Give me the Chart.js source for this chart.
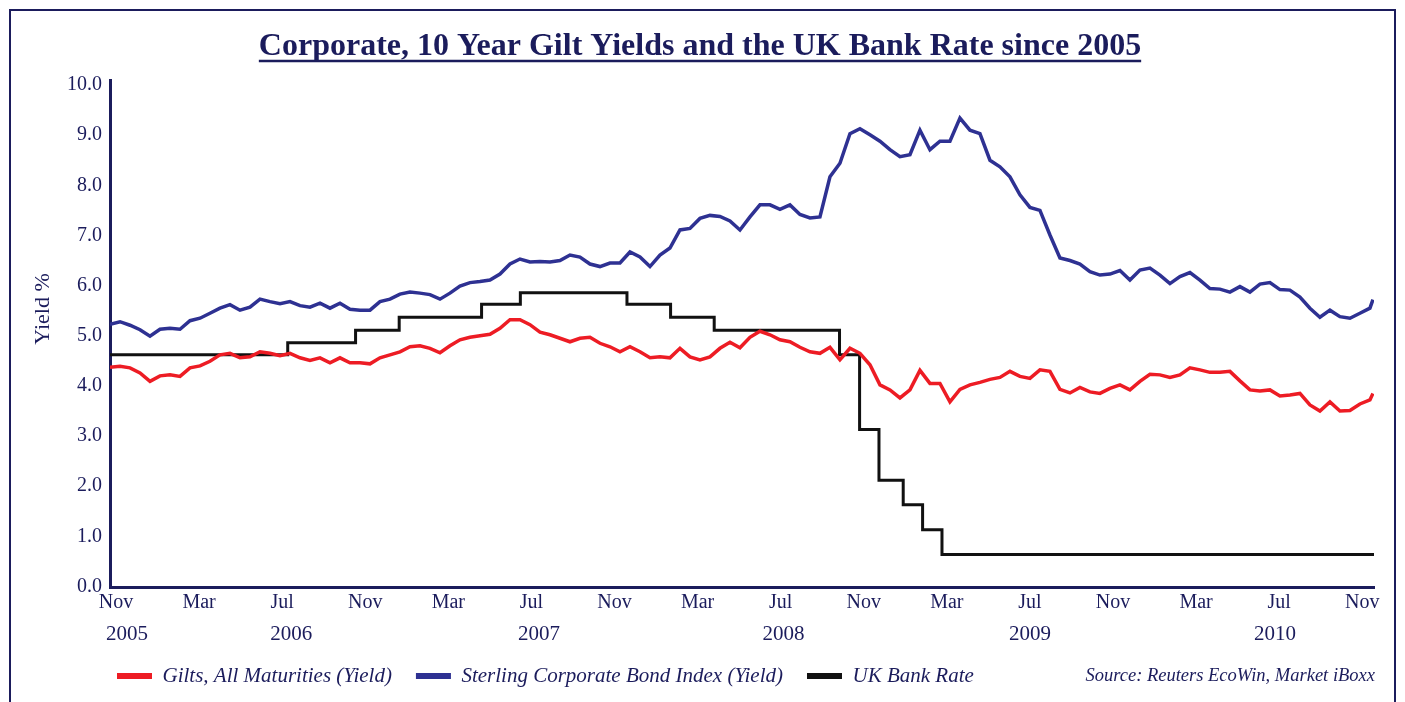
<!DOCTYPE html>
<html>
<head>
<meta charset="utf-8">
<script src="https://cdn.jsdelivr.net/npm/chart.js@4.4.1/dist/chart.umd.min.js"></script>
<style>
html,body{margin:0;padding:0;background:#fff;}
#wrap{position:relative;width:1405px;height:702px;overflow:hidden;background:#fff;}
#frame{position:absolute;left:9px;top:9px;width:1383px;height:720px;border:2px solid #1b1c5c;}
canvas{position:absolute;left:0;top:0;}
</style>
</head>
<body>
<div id="wrap"><div id="frame"></div><canvas id="c" width="1405" height="702"></canvas></div>
<script>
// x unit: days since 1 Nov 2005
const monthTickLabels = ['Nov','Mar','Jul','Nov','Mar','Jul','Nov','Mar','Jul','Nov','Mar','Jul','Nov','Mar','Jul','Nov'];
const monthTickDays = [27,147,267,387,507,627,747,867,987,1107,1227,1347,1467,1587,1707,1827];
const yearLabels = ['2005','2006','2007','2008','2009','2010'];
const yearTickDays = [43,280,638,991,1347,1701];
const yTickValues = [0,1,2,3,4,5,6,7,8,9,10];

// yield series (as read against the printed axis), sampled roughly every two weeks from 19 Nov 2005
const FIRST_DAY = 18.3, STEP_DAYS = 14.443, LAST_DAY = 1842.5;
const giltYield = [
  4.37,4.39,4.36,4.26,4.09,4.20,4.22,4.19,4.36,4.40,
  4.49,4.62,4.65,4.56,4.58,4.68,4.65,4.60,4.65,4.56,
  4.51,4.56,4.46,4.56,4.46,4.46,4.44,4.56,4.62,4.68,
  4.78,4.80,4.75,4.66,4.80,4.92,4.97,5.00,5.03,5.15,
  5.32,5.32,5.22,5.07,5.02,4.95,4.88,4.95,4.97,4.85,
  4.78,4.68,4.78,4.68,4.56,4.58,4.56,4.75,4.58,4.52,
  4.58,4.75,4.87,4.76,4.97,5.09,5.02,4.92,4.88,4.77,
  4.68,4.65,4.77,4.52,4.75,4.65,4.42,4.02,3.92,3.76,
  3.92,4.31,4.05,4.05,3.68,3.93,4.02,4.07,4.13,4.17,
  4.29,4.19,4.15,4.32,4.29,3.93,3.86,3.97,3.88,3.85,
  3.95,4.02,3.92,4.09,4.23,4.22,4.17,4.22,4.36,4.32,
  4.27,4.27,4.29,4.10,3.92,3.90,3.92,3.80,3.82,3.85,
  3.62,3.50,3.68,3.50,3.51,3.64,3.72,3.85
];
const corpYield = [
  5.23,5.28,5.21,5.12,4.99,5.13,5.15,5.13,5.30,5.35,
  5.45,5.55,5.62,5.51,5.57,5.73,5.68,5.64,5.68,5.60,
  5.57,5.65,5.55,5.65,5.53,5.51,5.51,5.68,5.73,5.83,
  5.87,5.85,5.82,5.73,5.85,5.99,6.06,6.08,6.11,6.23,
  6.43,6.53,6.47,6.48,6.47,6.50,6.61,6.57,6.43,6.38,
  6.45,6.45,6.67,6.57,6.38,6.61,6.75,7.11,7.14,7.34,
  7.40,7.38,7.29,7.11,7.37,7.61,7.61,7.52,7.61,7.42,
  7.35,7.37,8.17,8.44,9.03,9.13,9.01,8.88,8.71,8.57,
  8.61,9.10,8.71,8.88,8.88,9.34,9.10,9.03,8.50,8.37,
  8.17,7.81,7.56,7.50,7.01,6.55,6.50,6.43,6.28,6.21,
  6.23,6.30,6.11,6.31,6.35,6.21,6.04,6.18,6.26,6.11,
  5.94,5.93,5.87,5.98,5.87,6.03,6.06,5.92,5.91,5.77,
  5.55,5.37,5.51,5.38,5.35,5.45,5.55,5.72
];

const bankRateDates = ['2005-11-19','2006-08-03','2006-11-09','2007-01-11','2007-05-10','2007-07-05','2007-12-06','2008-02-07','2008-04-10','2008-10-08','2008-11-06','2008-12-04','2009-01-08','2009-02-05','2009-03-05','2010-11-19'];
const bankRate = [4.62,4.86,5.11,5.37,5.63,5.86,5.63,5.37,5.11,4.62,3.13,2.12,1.63,1.13,0.64,0.64];

const NAVY = '#1b1c5c';
const SERIF = '"Liberation Serif", "Times New Roman", serif';
const TITLE = 'Corporate, 10 Year Gilt Yields and the UK Bank Rate since 2005';
const Y_TITLE = 'Yield %';
const SOURCE = 'Source: Reuters EcoWin, Market iBoxx';

const ORIGIN = Date.UTC(2005, 10, 1);
const toDay = s => { const [y,m,d] = s.split('-').map(Number); return (Date.UTC(y, m-1, d) - ORIGIN) / 86400000; };
const sampleDays = giltYield.map((_, i) => i < giltYield.length - 1 ? FIRST_DAY + i * STEP_DAYS : LAST_DAY);
const giltPts = giltYield.map((v, i) => ({x: sampleDays[i], y: v}));
const corpPts = corpYield.map((v, i) => ({x: sampleDays[i], y: v}));
const bankPts = bankRate.map((v, i) => ({x: toDay(bankRateDates[i]), y: v}));

const X_MIN = 18.3, X_MAX = 1844;

const extras = {
  id: 'extras',
  afterLayout(chart) {
    const lg = chart.legend;
    if (lg) {
      const pad = lg.options.labels.padding;
      const dx = 117 - (lg.left + pad);
      const dy = 676 - (lg.top + pad + 10.5);
      lg.left += dx; lg.right += dx;
      lg.top += dy; lg.bottom += dy;
    }
  },
  afterDraw(chart) {
    const ctx = chart.ctx;
    ctx.save();
    const tb = chart.titleBlock;
    ctx.font = 'bold 32px ' + SERIF;
    const w = ctx.measureText(TITLE).width;
    const cx = (tb.left + tb.right) / 2;
    ctx.strokeStyle = NAVY;
    ctx.lineWidth = 2.5;
    ctx.beginPath();
    ctx.moveTo(cx - w / 2, 61);
    ctx.lineTo(cx + w / 2, 61);
    ctx.stroke();
    // source note
    ctx.font = 'italic 18.5px ' + SERIF;
    ctx.fillStyle = NAVY;
    ctx.textAlign = 'right';
    ctx.textBaseline = 'middle';
    ctx.fillText(SOURCE, 1375, 676);
    // y axis title
    ctx.translate(43, 309);
    ctx.rotate(-Math.PI / 2);
    ctx.textAlign = 'center';
    ctx.font = '22px ' + SERIF;
    ctx.fillText(Y_TITLE, 0, 0);
    ctx.restore();
  }
};

new Chart(document.getElementById('c'), {
  type: 'line',
  data: {
    datasets: [
      {label: 'Gilts, All Maturities (Yield)', data: giltPts, borderColor: '#ed1c24', backgroundColor: '#ed1c24', borderWidth: 3.5, pointRadius: 0, tension: 0},
      {label: 'Sterling Corporate Bond Index (Yield)', data: corpPts, borderColor: '#2e3192', backgroundColor: '#2e3192', borderWidth: 3.5, pointRadius: 0, tension: 0},
      {label: 'UK Bank Rate', data: bankPts, borderColor: '#111111', backgroundColor: '#111111', borderWidth: 3, pointRadius: 0, stepped: 'before'}
    ]
  },
  options: {
    responsive: false,
    animation: false,
    events: [],
    layout: {padding: {left: 26, right: 31, top: 0, bottom: 0.4}},
    scales: {
      x: {
        type: 'linear', position: 'bottom', weight: 0, min: X_MIN, max: X_MAX,
        grid: {display: false, drawTicks: false},
        border: {display: true, color: NAVY, width: 3},
        afterBuildTicks: s => { s.ticks = monthTickDays.map(v => ({value: v})); },
        ticks: {autoSkip: false, maxRotation: 0, minRotation: 0, padding: 4, color: NAVY,
                font: {family: SERIF, size: 20}, callback: (v, i) => monthTickLabels[i]},
        afterFit: s => { s.height = 28; }
      },
      x2: {
        type: 'linear', position: 'bottom', weight: 1, min: X_MIN, max: X_MAX,
        grid: {display: false, drawTicks: false},
        border: {display: false},
        afterBuildTicks: s => { s.ticks = yearTickDays.map(v => ({value: v})); },
        ticks: {autoSkip: false, maxRotation: 0, minRotation: 0, padding: 6.4, color: NAVY,
                font: {family: SERIF, size: 21}, callback: (v, i) => yearLabels[i]},
        afterFit: s => { s.height = 31.6; }
      },
      y: {
        type: 'linear', min: -0.01, max: 10.1,
        grid: {display: false, drawTicks: false},
        border: {display: true, color: NAVY, width: 3},
        afterBuildTicks: s => { s.ticks = yTickValues.map(v => ({value: v})); },
        ticks: {padding: 8, color: NAVY, font: {family: SERIF, size: 20}, callback: v => Number(v).toFixed(1)},
        title: {display: false},
        afterFit: s => { s.width = 84; }
      }
    },
    plugins: {
      title: {display: true, text: TITLE, color: NAVY, font: {family: SERIF, size: 32, weight: 'bold'}, padding: {top: 27.8, bottom: 13.8}},
      legend: {
        position: 'bottom', align: 'start',
        labels: {
          boxWidth: 35, boxHeight: 6, padding: 24, color: NAVY,
          font: {family: SERIF, size: 21, style: 'italic'},
          generateLabels: chart => Chart.defaults.plugins.legend.labels.generateLabels(chart)
            .map(it => Object.assign({}, it, {fillStyle: it.strokeStyle, lineWidth: 0}))
        }
      },
      tooltip: {enabled: false}
    }
  },
  plugins: [extras]
});
</script>
</body>
</html>
